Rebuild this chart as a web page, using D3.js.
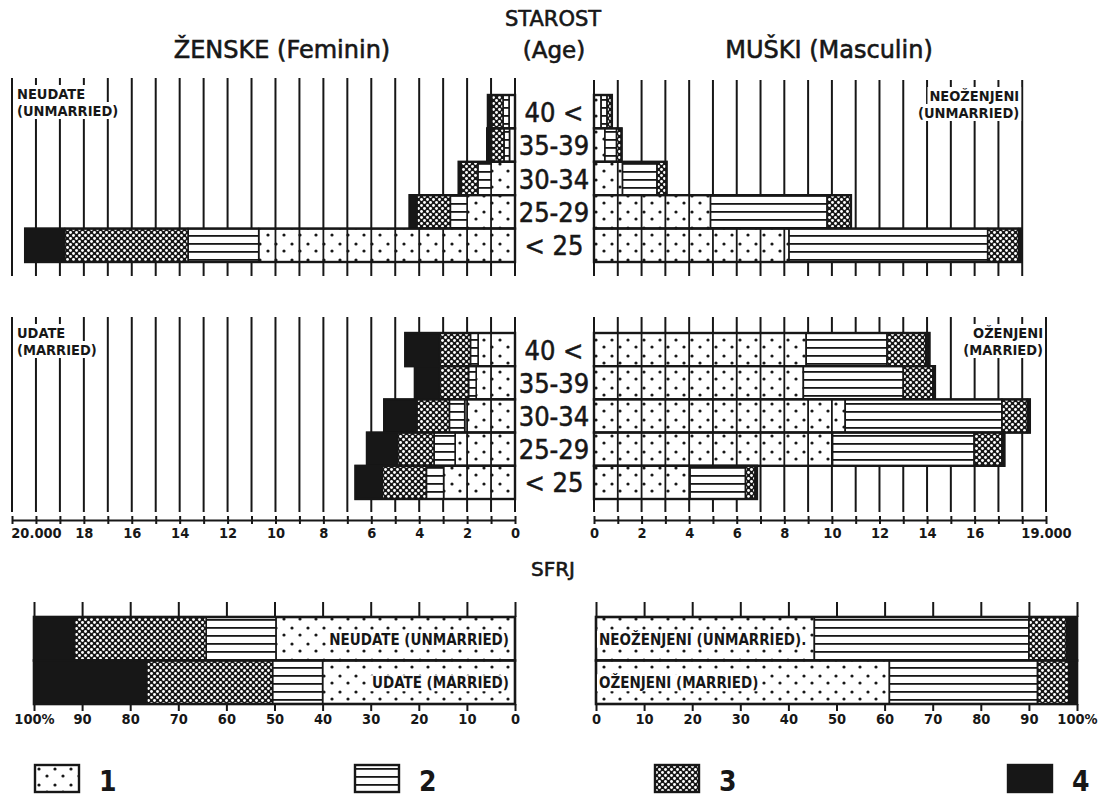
<!DOCTYPE html>
<html><head><meta charset="utf-8">
<script src="https://cdn.jsdelivr.net/npm/d3@7"></script>
<style>
body{margin:0;background:#fff}
svg{display:block;font-family:"DejaVu Sans Condensed","DejaVu Sans",sans-serif}
</style>
</head><body>
<svg id="c" width="1109" height="802"></svg>
<script>
// ---------- DATA (thousands of persons; segments = legend 1..4) ----------
const ages = ["40 <", "35-39", "30-34", "25-29", "< 25"];

const femUnmarried1 = [0.25, 0.23, 1.00, 2.00, 10.70];
const femUnmarried2 = [0.25, 0.23, 0.55, 0.70, 2.95];
const femUnmarried3 = [0.48, 0.53, 0.70, 1.40, 5.15];
const femUnmarried4 = [0.15, 0.17, 0.10, 0.30, 1.65];

const malUnmarried1 = [0.30, 0.46, 1.20, 4.90, 8.20];
const malUnmarried2 = [0.25, 0.49, 1.45, 4.90, 8.35];
const malUnmarried3 = [0.20, 0.21, 0.40, 1.00, 1.30];
const malUnmarried4 = [0.00, 0.00, 0.00, 0.00, 0.10];

const femMarried1 = [1.54, 1.62, 2.10, 2.50, 2.98];
const femMarried2 = [0.32, 0.32, 0.64, 0.88, 0.72];
const femMarried3 = [1.28, 1.20, 1.36, 1.52, 1.84];
const femMarried4 = [1.44, 1.04, 1.36, 1.28, 1.12];

const malMarried1 = [8.92, 8.80, 10.56, 10.03, 4.04];
const malMarried2 = [3.40, 4.20, 6.59, 5.95, 2.33];
const malMarried3 = [1.63, 1.25, 1.07, 1.17, 0.40];
const malMarried4 = [0.15, 0.08, 0.10, 0.10, 0.08];

// SFRJ shares (%)
const sfrjRows = ["unmarried", "married"];
const sfrjFem1 = [49.7, 40.0];
const sfrjFem2 = [14.5, 10.4];
const sfrjFem3 = [27.4, 26.2];
const sfrjFem4 = [8.4, 23.4];
const sfrjMal1 = [45.4, 61.0];
const sfrjMal2 = [44.6, 30.8];
const sfrjMal3 = [7.8, 6.5];
const sfrjMal4 = [2.2, 1.7];
const sfrjFemLabels = ["NEUDATE (UNMARRIED)", "UDATE (MARRIED)"];
const sfrjMalLabels = ["NEOŽENJENI (UNMARRIED).", "OŽENJENI (MARRIED)"];

// axis ticks / labels
const leftAxisTicks = [0, 2, 4, 6, 8, 10, 12, 14, 16, 18, 20];
const leftAxisLabels = ["0", "2", "4", "6", "8", "10", "12", "14", "16", "18", "20.000"];
const rightAxisTicks = [0, 2, 4, 6, 8, 10, 12, 14, 16, 19];
const rightAxisLabels = ["0", "2", "4", "6", "8", "10", "12", "14", "16", "19.000"];
const pctTicks = [0, 10, 20, 30, 40, 50, 60, 70, 80, 90, 100];
const pctLeftLabels = ["0", "10", "20", "30", "40", "50", "60", "70", "80", "90", "100%"];
const pctRightLabels = ["0", "10", "20", "30", "40", "50", "60", "70", "80", "90", "100%"];
const legendLabels = ["1", "2", "3", "4"];

// ---------- SETUP ----------
const ink = "#171717";
const svg = d3.select("#c");
const defs = svg.append("defs");
function pattern(id, w, h, bg, draw) {
  const p = defs.append("pattern").attr("id", id).attr("patternUnits", "userSpaceOnUse")
    .attr("width", w).attr("height", h);
  p.append("rect").attr("width", w).attr("height", h).attr("fill", bg);
  draw(p);
}
pattern("p1", 16, 16, "#fff", p => {
  [[4, 4], [12, 11]].forEach(([x, y]) => p.append("circle").attr("cx", x).attr("cy", y).attr("r", 1.6).attr("fill", ink));
});
pattern("p2", 8, 8, "#fff", p => {
  p.append("rect").attr("y", 3).attr("width", 8).attr("height", 1.8).attr("fill", ink);
});
pattern("p3", 6, 6, ink, p => {
  [[1.5, 1.5], [4.5, 4.5]].forEach(([x, y]) => p.append("circle").attr("cx", x).attr("cy", y).attr("r", 1.45).attr("fill", "#fff"));
});
const fills = ["url(#p1)", "url(#p2)", "url(#p3)", ink];

// scales
const xL = d3.scaleLinear().domain([0, 21]).range([515, 12]);
const xR = d3.scaleLinear().domain([0, 19]).range([594, 1046]);
const yTop = d3.scaleBand().domain(ages).range([95, 262]);
const yMid = d3.scaleBand().domain(ages).range([333, 499]);
const pL = d3.scaleLinear().domain([0, 100]).range([515, 34]);
const pR = d3.scaleLinear().domain([0, 100]).range([596, 1077]);
const ySf = d3.scaleBand().domain(sfrjRows).range([617, 704]);
const legX = d3.scaleOrdinal().domain(legendLabels).range([35, 355, 655, 1008]);

// ---------- TITLES ----------
function txt(x, y, s, size, anchor) {
  return svg.append("text").attr("x", x).attr("y", y).text(s)
    .attr("font-size", size).attr("text-anchor", anchor || "start")
    .attr("font-family", "'DejaVu Sans',sans-serif")
    .attr("fill", ink).attr("stroke", ink).attr("stroke-width", 0.6);
}
txt(553, 26, "STAROST", 21, "middle");
txt(282, 58, "ŽENSKE  (Feminin)", 24, "middle");
txt(554, 58, "(Age)", 23, "middle");
txt(829, 58, "MUŠKI  (Masculin)", 24, "middle");
txt(553, 576, "SFRJ", 20, "middle");

// ---------- PYRAMID PANELS ----------
function panel(x, y, series, gridMax, gy0, gy1, label, labelSide) {
  const g = svg.append("g");
  g.selectAll("line.grid").data(d3.range(0, gridMax + 1)).join("line")
    .attr("x1", d => x(d)).attr("x2", d => x(d)).attr("y1", gy0).attr("y2", gy1)
    .attr("stroke", ink).attr("stroke-width", 2);
  label.forEach((s, i) => {
    const lg = g.append("g");
    const r = lg.append("rect").attr("fill", "#fff");
    const ty = gy0 + 21 + i * 17;
    const t = lg.append("text").attr("y", ty).text(s).attr("font-size", 14.5)
      .attr("font-weight", "bold").attr("fill", ink);
    if (labelSide === "left") t.attr("x", x.range()[1] + 5);
    else t.attr("x", x(gridMax) - 3).attr("text-anchor", "end");
    const b = t.node().getBBox();
    r.attr("x", b.x - 2).attr("y", b.y - 1).attr("width", b.width + 4).attr("height", b.height + 1);
  });
  ages.forEach((a, i) => {
    let cum = 0;
    const y0 = y(a), h = y.bandwidth();
    series.forEach((s, k) => {
      const v = s[i];
      if (v <= 0) return;
      const a0 = x(cum), a1 = x(cum + v);
      g.append("rect").attr("x", Math.min(a0, a1)).attr("y", y0).attr("width", Math.abs(a1 - a0)).attr("height", h)
        .attr("fill", fills[k]).attr("stroke", ink).attr("stroke-width", 1.6);
      if (k === 0) {
        d3.range(Math.ceil(cum + 0.001), cum + v, 1).forEach(t => {
          g.append("line").attr("x1", x(t)).attr("x2", x(t)).attr("y1", y0).attr("y2", y0 + h)
            .attr("stroke", ink).attr("stroke-width", 1.8);
        });
      }
      cum += v;
    });
    const tot = d3.sum(series, s => s[i]);
    g.append("rect").attr("x", Math.min(x(0), x(tot))).attr("y", y0).attr("width", Math.abs(x(tot) - x(0))).attr("height", h)
      .attr("fill", "none").attr("stroke", ink).attr("stroke-width", 2.4);
  });
}
panel(xL, yTop, [femUnmarried1, femUnmarried2, femUnmarried3, femUnmarried4], 21, 78, 276, ["NEUDATE", "(UNMARRIED)"], "left");
panel(xR, yTop, [malUnmarried1, malUnmarried2, malUnmarried3, malUnmarried4], 18, 80, 276, ["NEOŽENJENI", "(UNMARRIED)"], "right");
panel(xL, yMid, [femMarried1, femMarried2, femMarried3, femMarried4], 21, 317, 512, ["UDATE", "(MARRIED)"], "left");
panel(xR, yMid, [malMarried1, malMarried2, malMarried3, malMarried4], 19, 317, 512, ["OŽENJENI", "(MARRIED)"], "right");

[yTop, yMid].forEach(y => {
  svg.append("g").selectAll("text").data(ages).join("text")
    .attr("x", 554).attr("y", d => y(d) + y.bandwidth() / 2 + 10)
    .attr("text-anchor", "middle").attr("font-size", 27).attr("fill", ink)
    .attr("stroke", ink).attr("stroke-width", 0.5).text(d => d);
});

// ---------- THOUSANDS AXES ----------
function countAxis(x, ticks, labels, maxv) {
  const g = svg.append("g").attr("transform", "translate(0,520)");
  g.call(d3.axisBottom(x).tickValues(d3.range(0, maxv + 1)).tickSize(4).tickSizeOuter(0).tickFormat(""));
  g.selectAll(".tick line").attr("y1", -4).attr("stroke", ink).attr("stroke-width", 2);
  g.select(".domain").attr("stroke", ink).attr("stroke-width", 2.2);
  const g2 = svg.append("g").attr("transform", "translate(0,520)");
  g2.call(d3.axisBottom(x).tickValues(ticks).tickSize(0).tickPadding(8)
    .tickFormat((d, i) => labels[i]));
  g2.select(".domain").remove();
  g2.selectAll("text").attr("font-size", 14.5).attr("font-weight", "bold").attr("fill", ink)
    .attr("font-family", "'DejaVu Sans Condensed',sans-serif");
}
countAxis(xL, leftAxisTicks, leftAxisLabels, 21);
countAxis(xR, rightAxisTicks, rightAxisLabels, 19);

// ---------- SFRJ ----------
function sfrj(x, series, labels, side) {
  const g = svg.append("g");
  const gt = g.append("g").attr("transform", "translate(0," + ySf.range()[0] + ")");
  gt.call(d3.axisTop(x).tickValues(pctTicks).tickSize(15).tickSizeOuter(0).tickFormat(""));
  gt.select(".domain").remove();
  gt.selectAll(".tick line").attr("stroke", ink).attr("stroke-width", 2);
  sfrjRows.forEach((r, i) => {
    let cum = 0;
    const y0 = ySf(r), h = ySf.bandwidth();
    series.forEach((s, k) => {
      const v = s[i];
      const a0 = x(cum), a1 = x(cum + v);
      g.append("rect").attr("x", Math.min(a0, a1)).attr("y", y0).attr("width", Math.abs(a1 - a0)).attr("height", h)
        .attr("fill", fills[k]).attr("stroke", ink).attr("stroke-width", 1.6);
      cum += v;
    });
    g.append("rect").attr("x", Math.min(x(0), x(100))).attr("y", y0).attr("width", Math.abs(x(100) - x(0))).attr("height", h)
      .attr("fill", "none").attr("stroke", ink).attr("stroke-width", 2.6);
    const lg = g.append("g");
    const bg = lg.append("rect").attr("fill", "#fff");
    const t = lg.append("text").attr("y", y0 + h / 2 + 6).text(labels[i])
      .attr("font-size", 15).attr("fill", ink).attr("font-weight", "bold");
    if (side === "left") t.attr("x", x(0) - 6).attr("text-anchor", "end");
    else t.attr("x", x(0) + 3);
    const b = t.node().getBBox();
    bg.attr("x", b.x - 2).attr("y", b.y + 1).attr("width", b.width + 4).attr("height", b.height - 2);
  });
  const gb = g.append("g").attr("transform", "translate(0," + ySf.range()[1] + ")");
  gb.call(d3.axisBottom(x).tickValues(pctTicks).tickSize(7).tickSizeOuter(0).tickPadding(3)
    .tickFormat((d, i) => side === "left" ? pctLeftLabels[i] : pctRightLabels[i]));
  gb.select(".domain").remove();
  gb.selectAll(".tick line").attr("stroke", ink).attr("stroke-width", 2);
  gb.selectAll("text").attr("font-size", 14.5).attr("font-weight", "bold").attr("fill", ink)
    .attr("font-family", "'DejaVu Sans Condensed',sans-serif");
}
sfrj(pL, [sfrjFem1, sfrjFem2, sfrjFem3, sfrjFem4], sfrjFemLabels, "left");
sfrj(pR, [sfrjMal1, sfrjMal2, sfrjMal3, sfrjMal4], sfrjMalLabels, "right");

// ---------- LEGEND ----------
const lgd = svg.append("g").selectAll("g").data(legendLabels).join("g")
  .attr("transform", d => "translate(" + legX(d) + ",765)");
lgd.append("rect").attr("width", 44).attr("height", 27).attr("fill", (d, i) => fills[i])
  .attr("stroke", ink).attr("stroke-width", 2.4);
lgd.append("text").attr("x", 64).attr("y", 26).attr("font-size", 28).attr("font-weight", "bold")
  .attr("fill", ink).text(d => d);
</script>
</body></html>
